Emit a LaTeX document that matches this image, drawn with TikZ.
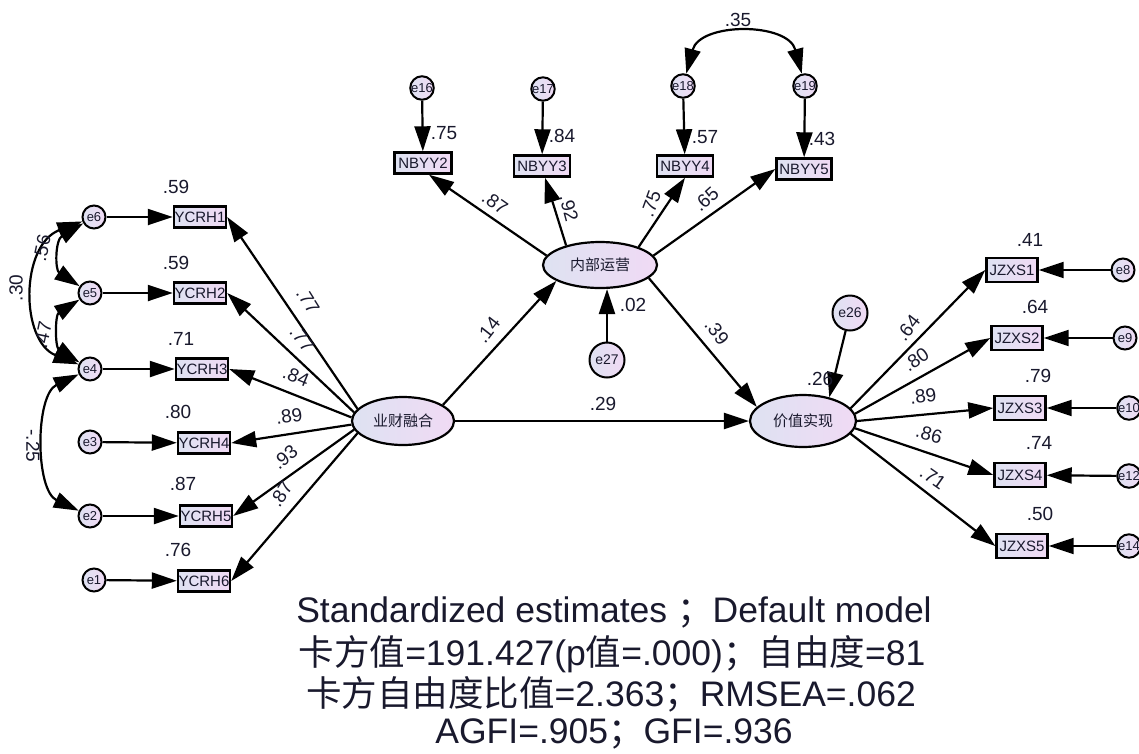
\documentclass[tikz,border=0pt]{standalone}
\usepackage{fontspec}
\setmainfont{Liberation Sans}
\newfontfamily\cjk{Noto Sans CJK SC}
\usetikzlibrary{shapes.geometric,arrows.meta}
\definecolor{ca}{RGB}{222,226,242}
\definecolor{cb}{RGB}{240,218,244}
\definecolor{tx}{RGB}{25,25,45}
\begin{document}
\begin{tikzpicture}[x=1pt,y=-1pt,
  obs/.style={draw,line width=2.4pt,minimum width=52pt,minimum height=21pt,inner sep=0pt,left color=ca,right color=cb,text=tx,font=\fontsize{15}{15}\selectfont},
  err/.style={circle,draw,line width=2pt,minimum size=23pt,inner sep=0pt,left color=ca,right color=cb,text=tx,font=\fontsize{13}{13}\selectfont},
  bigerr/.style={circle,draw,line width=2pt,minimum size=35pt,inner sep=0pt,left color=ca,right color=cb,text=tx,font=\fontsize{14}{14}\selectfont},
  lat/.style={ellipse,draw,line width=2.2pt,inner sep=0pt,left color=ca,right color=cb,text=tx,font=\cjk\fontsize{15}{15}\selectfont},
  pth/.style={line width=2.2pt,-{Triangle[length=25pt,width=16pt]}},
  cov/.style={line width=2.2pt,{Triangle[length=25pt,width=16pt]}-{Triangle[length=25pt,width=16pt]}},
  lab/.style={inner sep=0pt,text=tx,font=\fontsize{19}{19}\selectfont},
  captxt/.style={inner sep=0pt,align=center,text=tx,font=\fontsize{35.5}{41}\selectfont}
]
\useasboundingbox (0,0) rectangle (1139,753);

% latent variables
\node[lat,minimum width=102pt,minimum height=48pt] (ycf) at (403,421) {业财融合};
\node[lat,minimum width=114pt,minimum height=46pt] (nbyy) at (600,265) {内部运营};
\node[lat,minimum width=106pt,minimum height=52pt] (jz) at (803,421) {价值实现};
\node[bigerr] (e27) at (607,360) {e27};
\node[bigerr] (e26) at (850,313) {e26};

% left indicators
\node[obs] (y1) at (200,217) {YCRH1};
\node[obs] (y2) at (200,293) {YCRH2};
\node[obs] (y3) at (202,369) {YCRH3};
\node[obs] (y4) at (204,443) {YCRH4};
\node[obs] (y5) at (206,516) {YCRH5};
\node[obs] (y6) at (204,581) {YCRH6};
\node[err] (e6) at (94,217) {e6};
\node[err] (e5) at (90,293) {e5};
\node[err] (e4) at (90,369) {e4};
\node[err] (e3) at (90,442) {e3};
\node[err] (e2) at (90,516) {e2};
\node[err] (e1) at (94,580) {e1};

% top indicators
\node[obs,minimum width=57pt] (n2) at (423,163) {NBYY2};
\node[obs,minimum width=56pt] (n3) at (542,166) {NBYY3};
\node[obs,minimum width=56pt] (n4) at (685,166) {NBYY4};
\node[obs,minimum width=55pt] (n5) at (804,169) {NBYY5};
\node[err] (e16) at (422,88) {e16};
\node[err] (e17) at (543,89) {e17};
\node[err] (e18) at (683,86) {e18};
\node[err] (e19) at (805,86) {e19};

% right indicators
\node[obs,minimum width=51pt,minimum height=24pt] (z1) at (1012,270) {JZXS1};
\node[obs,minimum width=51pt,minimum height=24pt] (z2) at (1017,338) {JZXS2};
\node[obs,minimum width=51pt,minimum height=24pt] (z3) at (1020,408) {JZXS3};
\node[obs,minimum width=51pt,minimum height=24pt] (z4) at (1020,475) {JZXS4};
\node[obs,minimum width=51pt,minimum height=24pt] (z5) at (1022,546) {JZXS5};
\node[err] (e8) at (1123,270) {e8};
\node[err] (e9) at (1125,338) {e9};
\node[err] (e10) at (1129,408) {e10};
\node[err] (e12) at (1129,476) {e12};
\node[err] (e14) at (1129,546) {e14};

% structural paths
\draw[pth] (ycf.22) -- (nbyy.200);
\draw[pth] (ycf) -- (jz);
\draw[pth] (nbyy.-15) -- (jz.163);
\draw[pth] (e27) -- (nbyy.south -| e27);
\draw[pth] (e26) -- (jz.42);

% loadings left
\draw[pth] (ycf.165) -- (y1.east);
\draw[pth] (ycf.170) -- (y2.east);
\draw[pth] (ycf.176) -- (y3.east);
\draw[pth] (ycf.184) -- (y4.east);
\draw[pth] (ycf.190) -- (y5.east);
\draw[pth] (ycf.195) -- (y6.east);
\foreach \i/\j in {e6/y1,e5/y2,e4/y3,e3/y4,e2/y5,e1/y6} \draw[pth] (\i) -- (\j);

% loadings top
\draw[pth] (nbyy.170) -- ([xshift=6pt]n2.south);
\draw[pth] (nbyy.150) -- ([xshift=3pt]n3.south);
\draw[pth] (nbyy.25) -- (n4.south);
\draw[pth] (nbyy.10) -- (n5.west);
\foreach \i/\j in {e16/n2,e17/n3,e18/n4,e19/n5} \draw[pth] (\i) -- (\j);

% loadings right
\draw[pth] (jz.15) -- (z1.west);
\draw[pth] (jz.8) -- (z2.west);
\draw[pth] (jz.0) -- (z3.west);
\draw[pth] (jz.-8) -- (z4.west);
\draw[pth] (jz.-15) -- (z5.west);
\foreach \i/\j in {e8/z1,e9/z2,e10/z3,e12/z4,e14/z5} \draw[pth] (\i) -- (\j);

% covariances
\draw[cov] (e6) .. controls (55,240) and (55,270) .. (e5);
\draw[cov] (e5) .. controls (55,315) and (55,347) .. (e4);
\draw[cov] (e6) .. controls (20,245) and (20,341) .. (e4);
\draw[cov] (e4) .. controls (35,395) and (35,490) .. (e2);
\draw[cov] (e18) .. controls (700,22) and (788,22) .. (e19);

% labels: squared multiple correlations
\node[lab] (r1) at (176,187) {.59};
\node[lab] (r2) at (176,263) {.59};
\node[lab] (r3) at (181,339) {.71};
\node[lab] (r4) at (178,412) {.80};
\node[lab] (r5) at (183,484) {.87};
\node[lab] (r6) at (178,550) {.76};
\node[lab] (rn2) at (444,133) {.75};
\node[lab] (rn3) at (562,136) {.84};
\node[lab] (rn4) at (705,137) {.57};
\node[lab] (rn5) at (822,139) {.43};
\node[lab] (rz1) at (1030,240) {.41};
\node[lab] (rz2) at (1035,307) {.64};
\node[lab] (rz3) at (1038,376) {.79};
\node[lab] (rz4) at (1039,443) {.74};
\node[lab] (rz5) at (1040,514) {.50};
\node[lab] (rjz) at (820,379) {.26};
\node[lab] (rnb) at (633,305) {.02};

% labels: paths
\node[lab,rotate=-58] (p1) at (308,301) {.77};
\node[lab,rotate=-52] (p2) at (302,339) {.77};
\node[lab,rotate=-22] (p3) at (296,376) {.84};
\node[lab,rotate=8] (p4) at (289,416) {.89};
\node[lab,rotate=40] (p5) at (285,457) {.93};
\node[lab,rotate=58] (p6) at (281,494) {.87};
\node[lab,rotate=-35] (q2) at (495,203) {.87};
\node[lab,rotate=-75] (q3) at (569,208) {.92};
\node[lab,rotate=70] (q4) at (651,204) {.75};
\node[lab,rotate=42] (q5) at (706,199) {.65};
\node[lab,rotate=52] (s1) at (908,328) {.64};
\node[lab,rotate=35] (s2) at (916,360) {.80};
\node[lab,rotate=8] (s3) at (923,396) {.89};
\node[lab,rotate=-15] (s4) at (929,434) {.86};
\node[lab,rotate=-35] (s5) at (933,478) {.71};
\node[lab,rotate=52] (b1) at (488,330) {.14};
\node[lab] (b2) at (603,404) {.29};
\node[lab,rotate=-52] (b3) at (717,332) {.39};
\node[lab,rotate=78] (c1) at (42,248) {.56};
\node[lab,rotate=78] (c2) at (43,335) {.47};
\node[lab,rotate=90] (c3) at (16,288) {.30};
\node[lab,rotate=-90] (c4) at (33,446) {-.25};
\node[lab] (c5) at (738,20) {.35};

% caption
\node[captxt] (t1) at (614,612) {Standardized estimates {\cjk ；}Default model};
\node[captxt] (t2) at (612,654) {{\cjk 卡方值}=191.427(p{\cjk 值}=.000){\cjk ；自由度}=81};
\node[captxt] (t3) at (611,694) {{\cjk 卡方自由度比值}=2.363{\cjk ；}RMSEA=.062};
\node[captxt] (t4) at (614,734) {AGFI=.905{\cjk ；}GFI=.936};
\end{tikzpicture}
\end{document}
